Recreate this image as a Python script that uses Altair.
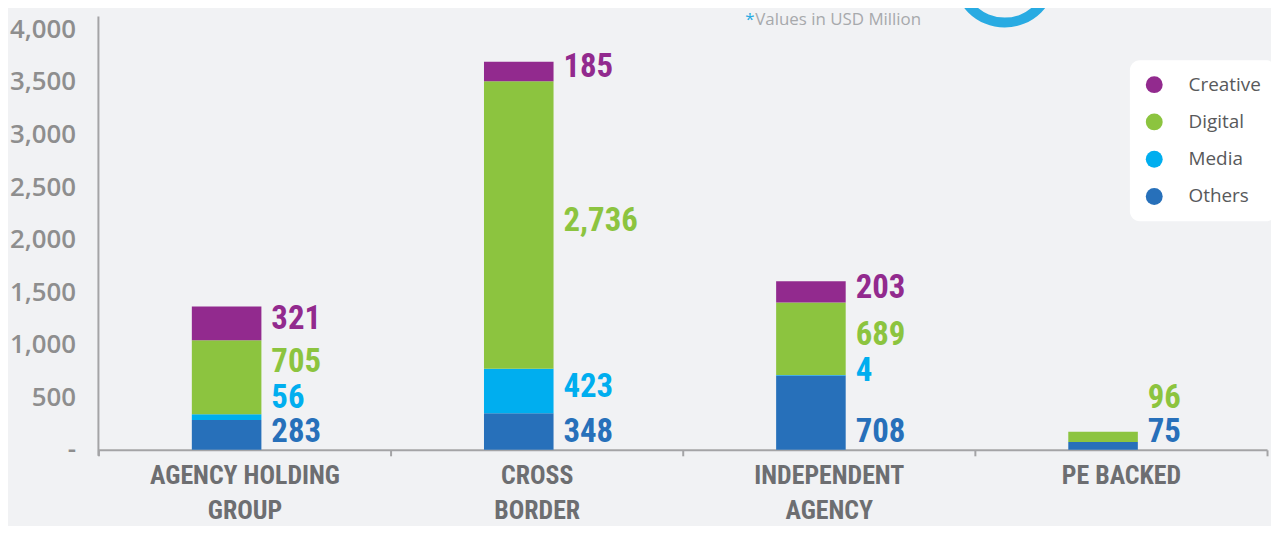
import math
import altair as alt
import pandas as pd

# ---------------- data ----------------
category_lines = [["AGENCY HOLDING", "GROUP"], ["CROSS", "BORDER"], ["INDEPENDENT", "AGENCY"], ["PE BACKED"]]
categories = [" ".join(l) for l in category_lines]
segments = ["Creative", "Digital", "Media", "Others"]          # legend order
stack_order = ["Others", "Media", "Digital", "Creative"]       # bottom -> top
creative = [321, 185, 203, 0]
digital = [705, 2736, 689, 96]
media = [56, 423, 4, 0]
others = [283, 348, 708, 75]
colors = ["#922a8e", "#8cc43f", "#00aeef", "#2770ba"]
y_ticks = [0, 500, 1000, 1500, 2000, 2500, 3000, 3500, 4000]
note_text = "Values in USD Million"

values = {"Creative": creative, "Digital": digital, "Media": media, "Others": others}

# label layout (data units): bottom label sits on the baseline, others at mid, pushed up to avoid overlap
BOTTOM_LABEL = 165
GAP_ABOVE_BOTTOM = 330
GAP_UPPER = 345
MID_SHIFT = 40

rows = []
for i, cat in enumerate(categories):
    base = 0
    prev_label = None
    n = 0
    for seg in stack_order:
        v = values[seg][i]
        if v == 0:
            continue
        start, end = base, base + v
        base = end
        if prev_label is None:
            ly = BOTTOM_LABEL
        else:
            gap = GAP_ABOVE_BOTTOM if n == 1 else GAP_UPPER
            ly = max((start + end) / 2 + MID_SHIFT, prev_label + gap)
        prev_label = ly
        n += 1
        rows.append({"category": cat, "segment": seg, "value": v, "start": start, "end": end,
                     "label_y": ly, "text": f"{v:,}"})
df = pd.DataFrame(rows)

# label expression for two-line category labels
expr_parts = []
for cat, lines in zip(categories, category_lines):
    arr = "[" + ",".join(f"'{l}'" for l in lines) + "]"
    expr_parts.append(f"datum.label == '{cat}' ? {arr} : ")
x_label_expr = "".join(expr_parts) + "datum.label"

BG = "#f1f2f4"
AXIS_GRAY = "#a4a4a6"
NARROW = "Roboto Condensed, Liberation Sans Narrow, Liberation Sans, sans-serif"

color_scale = alt.Scale(domain=segments, range=colors)
x_enc = alt.X(
    "category:N", sort=categories, title=None,
    scale=alt.Scale(paddingInner=0, paddingOuter=0),
    axis=alt.Axis(labelExpr=x_label_expr, labelAngle=0, labelFont=NARROW, labelFontSize=26,
                  labelFontWeight="bold", labelColor="#6d6e71", labelPadding=7, labelLineHeight=35,
                  labelBaseline="top", labelLimit=0, tickBand="extent", tickSize=6, tickColor=AXIS_GRAY,
                  tickWidth=2, domainColor=AXIS_GRAY, domainWidth=2),
)
y_scale = alt.Scale(domain=[0, 4000], nice=False)

bars = alt.Chart(df).mark_bar(size=70, xOffset=-18).encode(
    x=x_enc,
    y=alt.Y("start:Q", scale=y_scale, title=None,
            axis=alt.Axis(values=y_ticks, labelExpr="datum.value == 0 ? '-' : format(datum.value, ',')",
                          ticks=False, domain=False, grid=False, labelPadding=23,
                          labelFont="Open Sans", labelFontSize=26, labelFontWeight=600,
                          labelColor="#8e8e8e")),
    y2="end:Q",
    color=alt.Color("segment:N", scale=color_scale,
                    legend=alt.Legend(title=None, orient="none", legendX=1038, legendY=31,
                                      symbolType="circle", symbolSize=289, symbolStrokeWidth=0,
                                      labelFont="Open Sans", labelFontSize=19, labelColor="#58595b",
                                      labelOffset=25, rowPadding=17.5, padding=15,
                                      fillColor="white", cornerRadius=10)),
)

labels = alt.Chart(df).mark_text(align="left", baseline="middle", xOffset=27, font=NARROW,
                                 fontSize=33, fontWeight="bold").encode(
    x=alt.X("category:N", sort=categories),
    y=alt.Y("label_y:Q", scale=y_scale),
    text="text:N",
    color=alt.Color("segment:N", scale=color_scale, legend=None),
)

one = pd.DataFrame({"k": [0]})
y_rule = alt.Chart(one).mark_rule(color=AXIS_GRAY, strokeWidth=2).encode(
    x=alt.value(0), y=alt.value(-13), y2=alt.value(429))

note_star = alt.Chart(one).mark_text(text="*", align="left", baseline="alphabetic", font="Open Sans",
                                     fontSize=17, color="#29abe2").encode(x=alt.value(651), y=alt.value(-5))
note = alt.Chart(one).mark_text(text=note_text, align="left", baseline="alphabetic", font="Open Sans",
                                fontSize=17, color="#a7a9ac").encode(x=alt.value(661), y=alt.value(-5))
ring = alt.Chart(one).mark_arc(theta=0, theta2=2 * math.pi, radius=52, radius2=42,
                               color="#29abe2").encode(x=alt.value(912), y=alt.value(-54))

chart = alt.layer(ring, bars, labels, y_rule, note_star, note).properties(
    width=1176, height=423,
    autosize=alt.AutoSizeParams(type="none"),
    padding={"left": 91, "top": 20, "right": 4, "bottom": 75},
    background=BG,
).configure_view(stroke=None)

chart.save("out.html", embed_options={"renderer": "svg", "actions": False})
